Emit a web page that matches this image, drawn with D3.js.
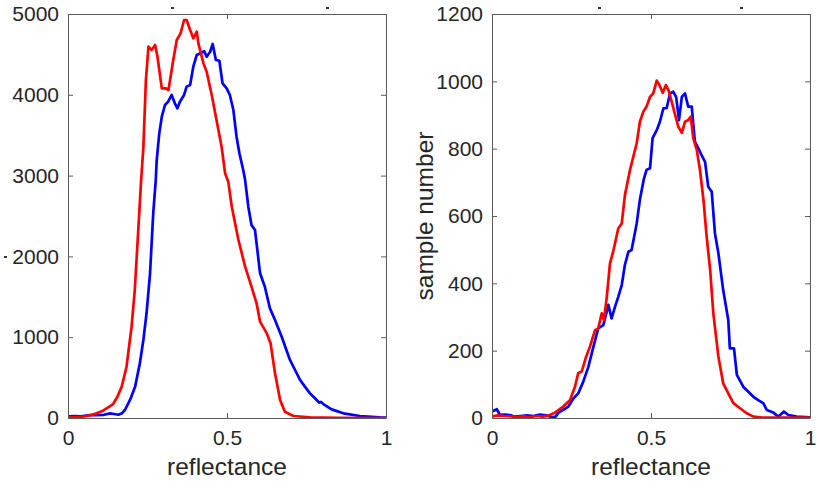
<!DOCTYPE html>
<html>
<head>
<meta charset="utf-8">
<script src="https://cdn.jsdelivr.net/npm/d3@7"></script>
<style>
  html, body { margin: 0; padding: 0; background: #fff; }
  svg { display: block; }
  text { font-family: "Liberation Sans", Arial, Helvetica, sans-serif; fill: #262626; }
</style>
</head>
<body>
<svg id="chart" width="817" height="486"></svg>
<script>
// Reflectance histograms: [reflectance, count] pairs for each panel and series.
const leftRed = [
  [0.00, 5], [0.02, 10], [0.04, 15], [0.06, 25], [0.08, 45], [0.09, 58], [0.11, 90], [0.13, 140],
  [0.142, 173], [0.155, 260], [0.169, 388], [0.184, 635], [0.20, 1130], [0.21, 1584], [0.221, 2327],
  [0.23, 2945], [0.237, 3350], [0.245, 4183], [0.253, 4596], [0.263, 4554], [0.274, 4616], [0.281, 4480],
  [0.295, 4080], [0.308, 4080], [0.316, 4059], [0.331, 4431], [0.342, 4678], [0.354, 4761], [0.365, 4926],
  [0.373, 4926], [0.384, 4802], [0.394, 4699], [0.405, 4781], [0.41, 4637], [0.426, 4389], [0.436, 4286],
  [0.452, 3998], [0.467, 3688], [0.483, 3358], [0.494, 3029], [0.504, 2925], [0.515, 2615], [0.536, 2203],
  [0.557, 1873], [0.577, 1625], [0.593, 1419], [0.604, 1192], [0.625, 1048], [0.637, 924], [0.651, 553],
  [0.667, 223], [0.682, 78], [0.709, 25], [0.76, 8], [0.85, 3], [1.00, 0]
];
const leftBlue = [
  [0.00, 15], [0.006, 20], [0.02, 25], [0.04, 20], [0.069, 37], [0.09, 35], [0.11, 37], [0.132, 58],
  [0.145, 50], [0.158, 40], [0.17, 60], [0.179, 99], [0.195, 223], [0.211, 388], [0.226, 677],
  [0.237, 965], [0.247, 1296], [0.258, 1791], [0.268, 2533], [0.276, 2945], [0.279, 3193], [0.287, 3523],
  [0.295, 3729], [0.305, 3874], [0.315, 3915], [0.326, 3998], [0.336, 3895], [0.344, 3833], [0.352, 3915],
  [0.365, 3998], [0.373, 4101], [0.384, 4121], [0.394, 4348], [0.405, 4493], [0.42, 4521], [0.428, 4540],
  [0.436, 4472], [0.447, 4533], [0.455, 4629], [0.465, 4431], [0.476, 4422], [0.486, 4142], [0.499, 4080],
  [0.509, 3998], [0.52, 3812], [0.53, 3481], [0.539, 3276], [0.551, 3069], [0.557, 2945], [0.567, 2615],
  [0.577, 2389], [0.588, 2327], [0.604, 1791], [0.619, 1625], [0.635, 1357], [0.651, 1213], [0.672, 1006],
  [0.698, 718], [0.714, 594], [0.73, 470], [0.745, 388], [0.761, 305], [0.782, 223], [0.79, 190],
  [0.795, 200], [0.803, 173], [0.829, 107], [0.866, 58], [0.918, 25], [0.98, 8], [1.00, 5]
];
const rightRed = [
  [0.00, 5], [0.02, 8], [0.04, 6], [0.06, 5], [0.08, 3], [0.10, 5], [0.12, 3], [0.14, 6], [0.16, 4],
  [0.18, 8], [0.198, 16], [0.224, 34], [0.245, 53], [0.261, 93], [0.271, 133], [0.282, 138], [0.296, 182],
  [0.308, 212], [0.324, 261], [0.334, 266], [0.345, 311], [0.352, 291], [0.361, 360], [0.371, 459],
  [0.381, 494], [0.397, 563], [0.408, 578], [0.418, 662], [0.434, 737], [0.455, 816], [0.465, 880],
  [0.476, 910], [0.486, 925], [0.497, 954], [0.507, 964], [0.518, 1002], [0.525, 992], [0.537, 966],
  [0.547, 989], [0.555, 974], [0.565, 940], [0.576, 900], [0.586, 865], [0.597, 847], [0.607, 880],
  [0.617, 885], [0.625, 895], [0.633, 831], [0.644, 796], [0.654, 737], [0.665, 648], [0.675, 539],
  [0.686, 440], [0.696, 311], [0.712, 182], [0.727, 103], [0.743, 73], [0.759, 44], [0.78, 29],
  [0.801, 14], [0.822, 4], [0.85, 1], [0.90, 1], [1.00, 1]
];
const rightBlue = [
  [0.00, 19], [0.015, 26], [0.025, 9], [0.04, 10], [0.06, 8], [0.069, 4], [0.09, 6], [0.11, 8],
  [0.13, 6], [0.15, 10], [0.17, 8], [0.19, 2], [0.20, 4], [0.209, 16], [0.224, 24], [0.24, 34],
  [0.256, 58], [0.271, 73], [0.287, 108], [0.303, 152], [0.319, 212], [0.334, 266], [0.35, 276],
  [0.366, 336], [0.376, 296], [0.387, 331], [0.397, 360], [0.408, 395], [0.418, 455], [0.429, 494],
  [0.439, 499], [0.455, 578], [0.465, 648], [0.478, 712], [0.486, 737], [0.497, 742], [0.505, 831],
  [0.518, 855], [0.528, 880], [0.539, 920], [0.549, 920], [0.56, 964], [0.57, 969], [0.579, 954],
  [0.588, 885], [0.597, 954], [0.607, 964], [0.617, 925], [0.628, 925], [0.638, 821], [0.649, 801],
  [0.659, 781], [0.67, 761], [0.68, 687], [0.691, 672], [0.701, 549], [0.712, 489], [0.727, 380],
  [0.743, 291], [0.748, 207], [0.761, 207], [0.77, 128], [0.79, 93], [0.806, 78], [0.822, 63],
  [0.837, 53], [0.853, 44], [0.864, 24], [0.885, 16], [0.90, 4], [0.918, 19], [0.932, 9], [0.958, 4],
  [1.00, 2]
];

const xTicks = [0, 0.5, 1];
const xTickLabels = ["0", "0.5", "1"];
const leftYTicks = [0, 1000, 2000, 3000, 4000, 5000];
const rightYTicks = [0, 200, 400, 600, 800, 1000, 1200];
const xLabel = "reflectance";
const rightYLabel = "sample number";

const svg = d3.select("#chart");
const axisColor = "#5a5a5a";
const tickLen = 5;

function panel(cfg) {
  const x = d3.scaleLinear().domain([0, 1]).range([cfg.x0, cfg.x1]);
  const y = d3.scaleLinear().domain([0, cfg.yMax]).range([cfg.y0, cfg.y1]);
  const g = svg.append("g");

  const clipId = "clip-" + cfg.id;
  svg.append("clipPath").attr("id", clipId)
    .append("rect")
    .attr("x", cfg.x0).attr("y", cfg.y1)
    .attr("width", cfg.x1 - cfg.x0).attr("height", cfg.y0 - cfg.y1);

  const line = d3.line().x(d => x(d[0])).y(d => y(d[1]));
  const lines = g.append("g").attr("clip-path", `url(#${clipId})`);
  cfg.series.forEach(s => {
    lines.append("path")
      .datum(s.data)
      .attr("fill", "none")
      .attr("stroke", s.color)
      .attr("stroke-width", 2.7)
      .attr("stroke-linejoin", "round")
      .attr("d", line);
  });

  // Bottom and left axes with inward ticks
  const bottom = g.append("g").attr("transform", `translate(0,${cfg.y0})`)
    .call(d3.axisBottom(x).tickValues(xTicks).tickFormat((d, i) => xTickLabels[i])
      .tickSizeInner(-tickLen).tickSizeOuter(0).tickPadding(12));
  const left = g.append("g").attr("transform", `translate(${cfg.x0},0)`)
    .call(d3.axisLeft(y).tickValues(cfg.yTicks).tickFormat(d3.format("d"))
      .tickSizeInner(-tickLen).tickSizeOuter(0).tickPadding(9));
  // Mirrored ticks on top and right edges
  const top = g.append("g").attr("transform", `translate(0,${cfg.y1})`)
    .call(d3.axisTop(x).tickValues(xTicks).tickFormat("").tickSizeInner(-tickLen).tickSizeOuter(0));
  const right = g.append("g").attr("transform", `translate(${cfg.x1},0)`)
    .call(d3.axisRight(y).tickValues(cfg.yTicks).tickFormat("").tickSizeInner(-tickLen).tickSizeOuter(0));

  [bottom, left, top, right].forEach(a => {
    a.selectAll(".domain").attr("stroke", axisColor).attr("stroke-width", 1);
    a.selectAll(".tick line").attr("stroke", axisColor);
    a.selectAll(".tick text").attr("font-size", 21).attr("fill", "#262626")
      .attr("font-family", "Liberation Sans, Arial, sans-serif");
  });

  g.append("text")
    .attr("x", (cfg.x0 + cfg.x1) / 2).attr("y", 475)
    .attr("text-anchor", "middle").attr("font-size", 24.5)
    .text(xLabel);

  if (cfg.yLabel) {
    g.append("text")
      .attr("transform", `translate(${cfg.yLabelX},${(cfg.y0 + cfg.y1) / 2}) rotate(-90)`)
      .attr("text-anchor", "middle").attr("font-size", 24.5)
      .text(cfg.yLabel);
  }
  return { x, y };
}

panel({
  id: "left", x0: 68, x1: 386, y0: 418, y1: 14, yMax: 5000, yTicks: leftYTicks,
  series: [{ data: leftBlue, color: "#0000ff" }, { data: leftRed, color: "#ff0000" }]
});
panel({
  id: "right", x0: 492, x1: 810, y0: 418, y1: 14, yMax: 1200, yTicks: rightYTicks,
  yLabel: rightYLabel, yLabelX: 433,
  series: [{ data: rightBlue, color: "#0000ff" }, { data: rightRed, color: "#ff0000" }]
});

// Small clipped remnants above the panels and beside the left axis
const specks = [[171, 7], [326, 7], [598, 7], [740, 7], [4, 256]];
svg.append("g").selectAll("rect").data(specks).join("rect")
  .attr("x", d => d[0]).attr("y", d => d[1])
  .attr("width", 3).attr("height", 2).attr("fill", "#333");
</script>
</body>
</html>
